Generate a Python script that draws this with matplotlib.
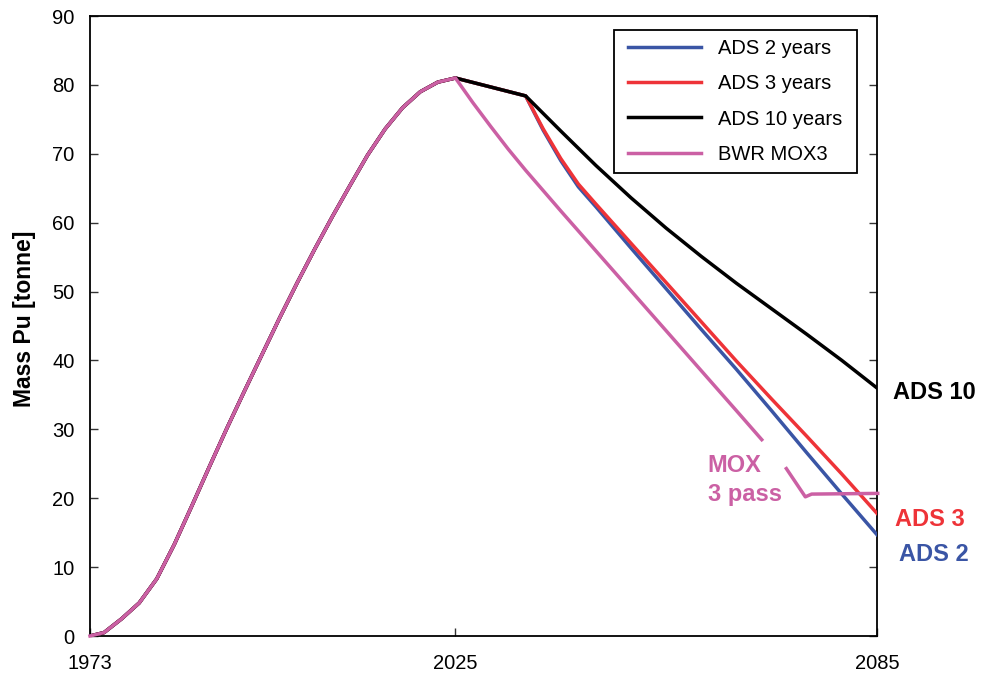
import numpy as np
import matplotlib
matplotlib.use("Agg")
import matplotlib.pyplot as plt
from matplotlib.legend_handler import HandlerLine2D

plt.rcParams['font.family'] = ['Liberation Sans', 'DejaVu Sans']

# Shared history (1973-2025)
hist_years = [1973, 1975, 1977.5, 1980, 1982.5, 1985, 1987.5, 1990, 1992.5, 1995,
              1997.5, 2000, 2002.5, 2005, 2007.5, 2010, 2012.5, 2015, 2017.5, 2020,
              2022.5, 2025]
hist_mass = [0, 0.5, 2.5, 4.8, 8.3, 13.3, 18.9, 24.6, 30.2, 35.6,
             40.9, 46.2, 51.3, 56.2, 60.9, 65.4, 69.8, 73.6, 76.7, 79.0,
             80.4, 81.0]

# Future scenarios
ads10_years = [2025, 2035, 2040, 2045, 2050, 2055, 2060, 2065, 2070, 2075, 2080, 2085]
ads10_mass = [81.0, 78.4, 73.3, 68.3, 63.6, 59.2, 55.1, 51.2, 47.5, 43.8, 40.0, 36.0]

ads3_years = [2025, 2035, 2037.5, 2040, 2042.5, 2045, 2050, 2055, 2060, 2065, 2070,
              2075, 2080, 2085]
ads3_mass = [81.0, 78.4, 73.6, 69.3, 65.6, 62.7, 57.0, 51.3, 45.6, 39.9, 34.4,
             29.0, 23.5, 17.8]

ads2_years = [2025, 2035, 2037.5, 2040, 2042.5, 2045, 2050, 2055, 2060, 2065, 2070,
              2075, 2080, 2085]
ads2_mass = [81.0, 78.4, 73.4, 69.0, 65.2, 62.3, 56.3, 50.4, 44.5, 38.7, 32.7,
             26.6, 20.6, 14.7]

mox_years = [2025, 2027.5, 2030, 2032.5, 2035, 2040, 2045, 2050, 2055, 2060, 2065,
             2068.6, 2070.0, 2072.1, 2074.8, 2075.7, 2085.1]
mox_mass = [81.0, 77.4, 74.0, 70.7, 67.6, 61.7, 55.9, 50.1, 44.3, 38.5, 32.7,
            28.5, np.nan, 24.3, 20.2, 20.6, 20.7]

x_ticks = [1973, 2025, 2085]
y_ticks = [0, 10, 20, 30, 40, 50, 60, 70, 80, 90]

c_blue = '#3a55a5'
c_red = '#ee3338'
c_black = '#000000'
c_pink = '#cb60a4'

fig = plt.figure(figsize=(9.81, 6.77), dpi=100)
ax = fig.add_axes([90/981, 1-636/677, 787/981, 620/677])

lw = 2.5
ax.plot(hist_years + ads2_years[1:], hist_mass + ads2_mass[1:], color=c_blue, lw=lw,
        label='ADS 2 years ', zorder=3)
ax.plot(hist_years + ads3_years[1:], hist_mass + ads3_mass[1:], color=c_red, lw=lw,
        label='ADS 3 years ', zorder=4)
ax.plot(hist_years + ads10_years[1:], hist_mass + ads10_mass[1:], color=c_black, lw=lw,
        label='ADS 10 years ', zorder=5)
ax.plot(hist_years + mox_years[1:], hist_mass + mox_mass[1:], color=c_pink, lw=lw,
        label='BWR MOX3 ', zorder=6, clip_on=False)

ax.set_xlim(1973, 2085)
ax.set_ylim(0, 90)
ax.set_xticks(x_ticks)
ax.set_yticks(y_ticks)
ax.tick_params(axis='both', direction='in', length=6, width=1, labelsize=14.5, color='#333333')
ax.tick_params(axis='y', right=True, pad=11)
ax.tick_params(axis='x', pad=13)
for s in ax.spines.values():
    s.set_linewidth(1.3)
    s.set_color('black')

ax.set_ylabel('Mass Pu [tonne]', fontsize=16.5, fontweight='bold')
ax.yaxis.set_label_coords(-0.0686, 0.512)

leg = ax.legend(loc='upper right', bbox_to_anchor=(0.9746, 0.977), borderaxespad=0,
                fontsize=14.5, fancybox=False, framealpha=1, edgecolor='black',
                handlelength=4.1, handletextpad=0.6, labelspacing=0.8, borderpad=0.45,
                handler_map={matplotlib.lines.Line2D: HandlerLine2D(numpoints=2, marker_pad=0.25)})
leg.get_frame().set_linewidth(1.3)

ax.text(2087.3, 35.4, 'ADS 10', color=c_black, fontsize=17, fontweight='bold',
        ha='left', va='center', clip_on=False)
ax.text(2087.6, 16.9, 'ADS 3', color=c_red, fontsize=17, fontweight='bold',
        ha='left', va='center', clip_on=False)
ax.text(2088.1, 11.9, 'ADS 2', color=c_blue, fontsize=17, fontweight='bold',
        ha='left', va='center', clip_on=False)
ax.text(2060.9, 22.6, 'MOX\n3 pass', color=c_pink, fontsize=17, fontweight='bold',
        ha='left', va='center', linespacing=1.35)

fig.savefig('out.png', dpi=100)
